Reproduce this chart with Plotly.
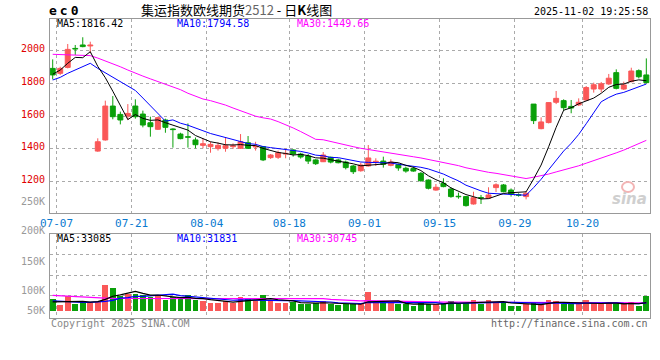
import plotly.graph_objects as go

W, H = 660, 360

# ---------------- data ----------------
opens = [1892, 1862, 1898, 2014, 2035, 2029, 1387, 1455, 1662, 1611,
         1601, 1662, 1613, 1560, 1520, 1577, 1522, 1491, 1475, 1455,
         1422, 1414, 1402, 1404, 1414, 1404, 1438, 1412, 1414, 1347,
         1349, 1369, 1394, 1369, 1357, 1333, 1322, 1349, 1333, 1320,
         1296, 1267, 1296, 1320, 1326, 1300, 1304, 1282, 1280, 1251,
         1210, 1149, 1190, 1155, 1111, 1109, 1064, 1103, 1100, 1164,
         1180, 1149, 1120, 1109, 1674, 1524, 1561, 1685, 1695, 1660,
         1669, 1699, 1766, 1766, 1797, 1866, 1766, 1811, 1878, 1852]
highs = [1947, 1902, 2041, 2035, 2082, 2055, 1465, 1695, 1723, 1628,
         1674, 1703, 1634, 1597, 1597, 1585, 1526, 1499, 1556, 1470,
         1465, 1444, 1440, 1471, 1434, 1491, 1479, 1444, 1418, 1369,
         1390, 1402, 1398, 1377, 1369, 1337, 1381, 1353, 1341, 1329,
         1302, 1316, 1424, 1343, 1353, 1337, 1312, 1292, 1292, 1259,
         1214, 1186, 1221, 1166, 1133, 1113, 1139, 1119, 1166, 1190,
         1186, 1159, 1129, 1143, 1674, 1593, 1683, 1754, 1703, 1699,
         1709, 1784, 1805, 1809, 1858, 1886, 1811, 1896, 1886, 1953]
lows = [1825, 1852, 1892, 1974, 2021, 1984, 1383, 1451, 1581, 1550,
        1577, 1585, 1532, 1475, 1516, 1499, 1408, 1459, 1408, 1404,
        1404, 1377, 1390, 1383, 1400, 1400, 1400, 1390, 1326, 1339,
        1339, 1343, 1353, 1341, 1308, 1302, 1320, 1312, 1312, 1275,
        1247, 1261, 1292, 1296, 1286, 1294, 1267, 1255, 1261, 1200,
        1153, 1145, 1166, 1102, 1096, 1048, 1060, 1064, 1096, 1137,
        1135, 1109, 1109, 1092, 1552, 1520, 1556, 1674, 1634, 1618,
        1662, 1695, 1744, 1746, 1791, 1764, 1760, 1807, 1831, 1801]
closes = [1852, 1892, 2008, 2010, 2025, 2035, 1444, 1662, 1597, 1577,
          1617, 1597, 1546, 1536, 1591, 1532, 1518, 1463, 1471, 1426,
          1432, 1428, 1422, 1420, 1420, 1444, 1404, 1416, 1333, 1363,
          1377, 1373, 1369, 1351, 1326, 1310, 1363, 1320, 1316, 1286,
          1261, 1302, 1345, 1325, 1306, 1320, 1284, 1265, 1265, 1206,
          1160, 1166, 1170, 1109, 1108, 1054, 1102, 1100, 1119, 1181,
          1139, 1125, 1117, 1129, 1573, 1565, 1683, 1709, 1652, 1650,
          1685, 1775, 1792, 1798, 1832, 1770, 1791, 1876, 1841, 1805]
volumes = [45800, 23100, 59500, 28400, 33600, 29600, 33600, 104000, 91900, 60800,
           67600, 67600, 62000, 56700, 63600, 43300, 53900, 45800, 63600, 43300,
           39300, 32400, 32400, 39300, 29600, 55500, 45800, 40500, 63600, 40500,
           31200, 31200, 33600, 28400, 27100, 31200, 40500, 25500, 24300, 25500,
           25500, 29600, 75700, 32400, 32400, 32400, 25500, 25500, 19000, 35200,
           25500, 25500, 33000, 41000, 25500, 33000, 45000, 25500, 45000, 37000,
           29600, 19000, 19000, 25500, 33000, 25500, 45000, 41000, 25500, 25500,
           25500, 43300, 25500, 25500, 35200, 25500, 25500, 35200, 19000, 59500]

# moving-average values before enough bars exist in the window
ma5_head = [1856, 1882, 1923, 1959]
ma10_head = [1821, 1837, 1862, 1882, 1902, 1923, 1892, 1866, 1838]
ma30_head = [1978, 1977, 1976, 1975, 1973, 1970, 1955, 1938, 1920, 1902,
             1882, 1862, 1845, 1828, 1812, 1796, 1780, 1762, 1740, 1722,
             1705, 1695, 1682, 1668, 1650, 1632, 1615, 1600, 1590]
vma5_head = [36000, 36000, 37000, 37000]
vma10_head = [40000, 38000, 36000, 34000, 34000, 34000, 35000, 38000, 42000]
vma30_head = [62000, 60000, 59000, 58000, 55000, 54000, 52000, 51000, 50000, 50000,
              50000, 50000, 50000, 50000, 50000, 50000, 50000, 50000, 50000, 50000,
              50000, 50000, 50000, 50000, 50000, 50000, 50000, 50000, 50000]

tick_index = [0, 10, 20, 31, 41, 51, 61, 70]
tick_labels = ["07-07", "07-21", "08-04", "08-18", "09-01", "09-15", "09-29", "10-20"]
price_ticks = [2200, 2000, 1800, 1600, 1400, 1200, 1000]
price_grid = [2000, 1800, 1600, 1400, 1200]
vol_tick_labels = ["200K", "150K", "100K", "50K"]

title_text = "集运指数欧线期货<span style='color:#666666'>2512</span> - 日<b>K</b>线图"
symbol = "ec0"
stamp = "2025-11-02 19:25:58"
ma_labels = ["MA5:1816.42", "MA10:1794.58", "MA30:1449.66"]
vma_labels = ["MA5:33085", "MA10:31831", "MA30:30745"]

# ---------------- helpers ----------------
def moving_avg(vals, n, head):
    out = list(head)
    for i in range(len(head), len(vals)):
        out.append(sum(vals[i - n + 1:i + 1]) / n)
    return out

RED = "#fa5858"
GREEN = "#0aa00a"
MONO = "DejaVu Sans Mono, Liberation Mono, monospace"

n = len(closes)
xs = list(range(n))
up = [c >= o for o, c in zip(opens, closes)]
colors = [RED if u else GREEN for u in up]

ma5 = moving_avg(closes, 5, ma5_head)
ma10 = moving_avg(closes, 10, ma10_head)
ma30 = moving_avg(closes, 30, ma30_head)
vma5 = moving_avg(volumes, 5, vma5_head)
vma10 = moving_avg(volumes, 10, vma10_head)
vma30 = moving_avg(volumes, 30, vma30_head)

fig = go.Figure()

# wicks
for col, flag in ((RED, True), (GREEN, False)):
    wx, wy = [], []
    for i in xs:
        if up[i] == flag:
            wx += [i, i, None]
            wy += [lows[i], highs[i], None]
    fig.add_trace(go.Scatter(x=wx, y=wy, mode="lines", line=dict(color=col, width=1),
                             xaxis="x", yaxis="y", hoverinfo="skip"))

# bodies
fig.add_trace(go.Bar(x=xs, y=[abs(c - o) for o, c in zip(opens, closes)],
                     base=[min(o, c) for o, c in zip(opens, closes)],
                     width=0.66, marker=dict(color=colors, line=dict(color=colors, width=1)),
                     xaxis="x", yaxis="y"))

for vals, col in ((ma30, "#ff00ff"), (ma10, "#0000ff"), (ma5, "#000000")):
    fig.add_trace(go.Scatter(x=xs, y=vals, mode="lines", line=dict(color=col, width=1),
                             xaxis="x", yaxis="y"))

# volume
fig.add_trace(go.Bar(x=xs, y=volumes, width=0.76, marker=dict(color=colors, line=dict(width=0)),
                     xaxis="x2", yaxis="y2"))
for vals, col in ((vma30, "#ff00ff"), (vma10, "#0000ff"), (vma5, "#000000")):
    fig.add_trace(go.Scatter(x=xs, y=vals, mode="lines", line=dict(color=col, width=1.2),
                             xaxis="x2", yaxis="y2"))

# ---------------- layout ----------------
def px_x(p):
    return p / W

def px_y(p):
    return 1 - p / H

xrange = [-0.359, 79.49]
grid = dict(showgrid=True, gridcolor="#aaaaaa", griddash="dot", gridwidth=1,
            zeroline=False, showline=True, linecolor="#999999", linewidth=1, mirror=True)

fig.update_layout(
    width=W, height=H, margin=dict(l=0, r=0, t=0, b=0, pad=0, autoexpand=False),
    paper_bgcolor="white", plot_bgcolor="white",
    showlegend=False, hovermode=False, bargap=0,
    xaxis=dict(domain=[px_x(50), px_x(650)], range=xrange, anchor="y",
               tickvals=[t + 0.5 for t in tick_index], ticktext=tick_labels,
               tickfont=dict(family=MONO, size=11, color="#0a7ad0"), ticks="", **grid),
    xaxis2=dict(domain=[px_x(50), px_x(650)], range=xrange, anchor="y2", matches="x",
                tickvals=[t + 0.5 for t in tick_index], showticklabels=False, ticks="", **grid),
    yaxis=dict(domain=[px_y(212.7), px_y(19)], range=[1010.7, 2193.6], anchor="x",
               tickvals=price_grid, showticklabels=False, ticks="", **grid),
    yaxis2=dict(domain=[px_y(318.3), px_y(233.5)], range=[-30800, 312700], anchor="x2",
                tickvals=[62000, 142000, 226000], showticklabels=False, ticks="", **grid),
)

ann = []
# price labels
for v in price_ticks:
    ann.append(dict(x=px_x(47), xref="paper", y=v, yref="y", yshift=2, text=str(v),
                    showarrow=False, xanchor="right", yanchor="middle",
                    font=dict(family=MONO, size=10, color="#e00000")))
ann.append(dict(x=px_x(47), xref="paper", y=px_y(201), yref="paper", text="250K",
                showarrow=False, xanchor="right", yanchor="middle",
                font=dict(family=MONO, size=10, color="#999999")))
for txt, yy in zip(vol_tick_labels, [230.7, 261, 290, 310]):
    ann.append(dict(x=px_x(47), xref="paper", y=px_y(yy), yref="paper", text=txt,
                    showarrow=False, xanchor="right", yanchor="middle",
                    font=dict(family=MONO, size=10, color="#999999")))
# MA labels
for txt, xx, col in zip(ma_labels, [55, 175, 295], ["#000000", "#0000ff", "#ff00ff"]):
    ann.append(dict(x=px_x(xx), xref="paper", y=px_y(24), yref="paper", text=txt,
                    showarrow=False, xanchor="left", yanchor="middle",
                    font=dict(family=MONO, size=10, color=col)))
for txt, xx, col in zip(vma_labels, [55, 175, 295], ["#000000", "#0000ff", "#ff00ff"]):
    ann.append(dict(x=px_x(xx), xref="paper", y=px_y(238.5), yref="paper", text=txt,
                    showarrow=False, xanchor="left", yanchor="middle",
                    font=dict(family=MONO, size=10, color=col)))
# header
ann.append(dict(x=px_x(47), xref="paper", y=px_y(10.5), yref="paper",
                text="<span style='letter-spacing:3px'><b>" + symbol + "</b></span>",
                showarrow=False, xanchor="left", yanchor="middle",
                font=dict(family=MONO, size=13, color="#000000")))
ann.append(dict(x=px_x(139), xref="paper", y=px_y(9.5), yref="paper", text=title_text,
                showarrow=False, xanchor="left", yanchor="middle",
                font=dict(family="Noto Sans CJK SC", size=13, color="#000000")))
ann.append(dict(x=px_x(650), xref="paper", y=px_y(12), yref="paper", text=stamp,
                showarrow=False, xanchor="right", yanchor="middle",
                font=dict(family=MONO, size=10, color="#000000")))
# footer
ann.append(dict(x=px_x(49), xref="paper", y=px_y(323.5), yref="paper", text="Copyright 2025 SINA.COM",
                showarrow=False, xanchor="left", yanchor="middle",
                font=dict(family=MONO, size=10, color="#888888")))
ann.append(dict(x=px_x(650), xref="paper", y=px_y(323.5), yref="paper", text="http://finance.sina.com.cn",
                showarrow=False, xanchor="right", yanchor="middle",
                font=dict(family=MONO, size=10, color="#666666")))
# watermark
ann.append(dict(x=px_x(649), xref="paper", y=px_y(199), yref="paper", text="<b><i>sina</i></b>",
                showarrow=False, xanchor="right", yanchor="middle",
                font=dict(family="DejaVu Sans", size=15, color="#cfcfcf")))
fig.update_layout(annotations=ann)

fig.add_shape(type="circle", xref="paper", yref="paper",
              x0=px_x(622), x1=px_x(634), y0=px_y(192), y1=px_y(182),
              line=dict(color="#f3b5b5", width=2), fillcolor="rgba(0,0,0,0)")

post = ("document.documentElement.style.margin='0';document.body.style.margin='0';"
        "document.body.style.padding='0';document.body.style.overflow='hidden';"
        "var d=document.getElementById('{plot_id}');"
        "d.style.position='absolute';d.style.left='0px';d.style.top='0px';")
fig.write_html("out.html", config={"displayModeBar": False, "staticPlot": True},
               post_script=post)
